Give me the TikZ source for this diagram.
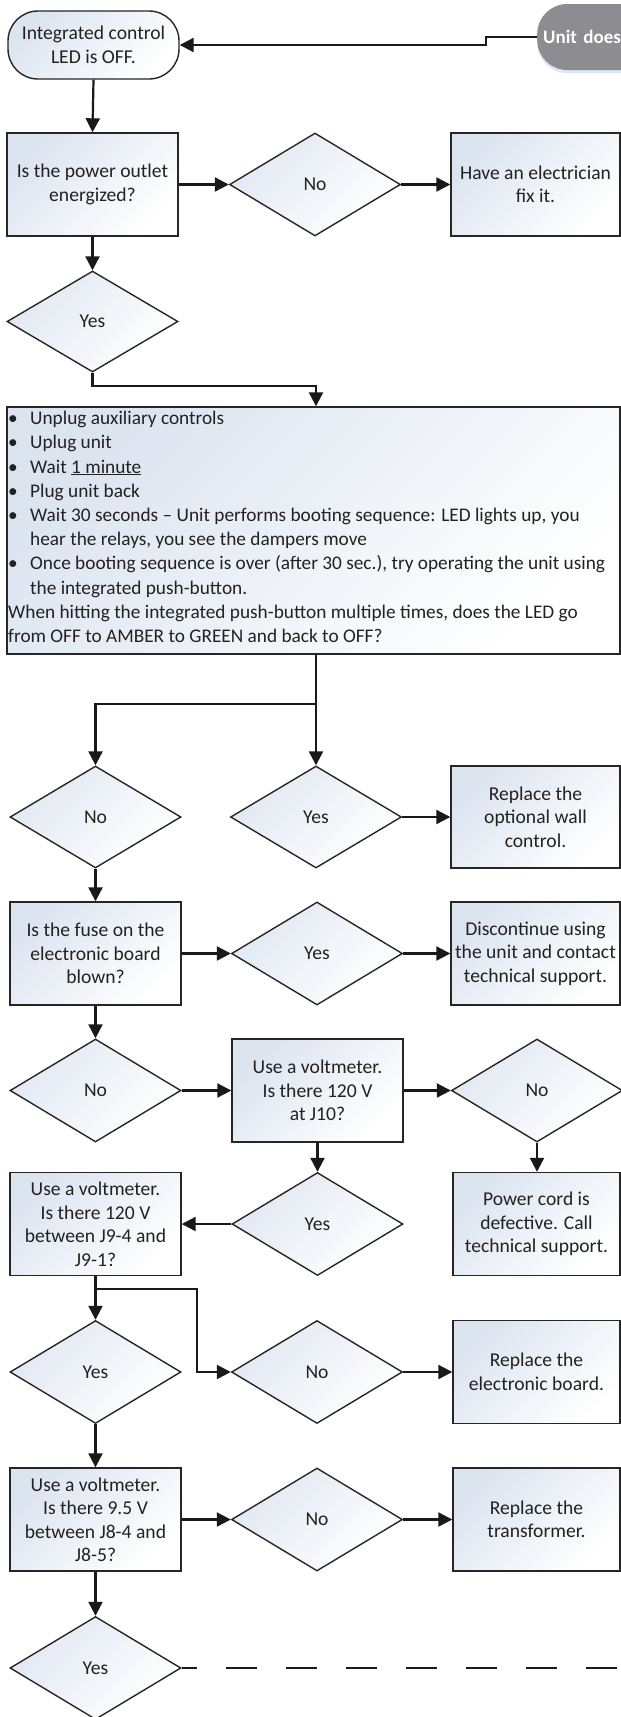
\documentclass[tikz,border=0pt]{standalone}
\usepackage{fontspec}
\setmainfont{Carlito}
\usetikzlibrary{arrows.meta,shapes.geometric,shadows,calc}
\definecolor{shadeblue}{HTML}{DCE4F0}
\definecolor{linegray}{HTML}{262626}
\definecolor{termgray}{HTML}{8C8C91}
\definecolor{glowblue}{HTML}{DCE6F4}
\definecolor{txtgray}{HTML}{222222}
\begin{document}
\begin{tikzpicture}[x=1pt,y=-1pt,
  every node/.style={font=\fontsize{19.6}{23.5}\selectfont, text=txtgray},
  boxnode/.style={draw=linegray, line width=1.4pt, rectangle, minimum width=171pt, minimum height=103pt, inner sep=0pt, align=center, top color=shadeblue, bottom color=white, shading angle=45},
  rbox/.style={boxnode, minimum width=169pt},
  dia/.style={draw=linegray, line width=1.4pt, diamond, minimum width=171pt, minimum height=103pt, inner sep=0pt, top color=shadeblue!85, bottom color=white, shading angle=45},
  termnode/.style={draw=linegray, line width=1.4pt, rectangle, rounded corners=30pt, minimum width=171pt, minimum height=68pt, inner sep=0pt, align=center, top color=shadeblue, bottom color=white, shading angle=45},
  conn/.style={line width=2.2pt, draw=black!90, -{Triangle[length=14pt,width=14pt]}},
  plainline/.style={line width=2.2pt, draw=black!90},
  dashline/.style={line width=2pt, draw=black!90, dash pattern=on 31pt off 29pt, dash phase=16pt}
]
\useasboundingbox (0,0) rectangle (621,1717);
\clip (0,0) rectangle (621,1717);

% top row
\node[draw=none, fill=termgray, rounded corners=30pt, minimum width=200pt, minimum height=66pt, text width=188pt, inner xsep=6pt, align=left, anchor=west, text=white, font=\fontsize{19}{23.5}\selectfont\bfseries, drop shadow={shadow xshift=0pt, shadow yshift=-3pt, fill=glowblue, opacity=1}] (unit) at (537,37) {Unit does};
\node[termnode] (start) at (93.5,45) {Integrated control\\LED is OFF.};

\node[boxnode] (box1) at (92.5,184.5) {Is the power outlet\\energized?};
\node[dia] (d1) at (315,184.5) {No};
\node[rbox] (elec) at (535.5,184.5) {Have an electrician\\fix it.};
\node[dia, minimum height=101pt] (dy1) at (92.5,321.5) {Yes};

\node[draw=linegray, line width=1.4pt, rectangle, minimum width=613pt, minimum height=247pt, inner sep=0pt, top color=shadeblue, bottom color=white, shading angle=45] (big) at (313.5,530.5) {};
\node[anchor=north west, inner sep=0pt, align=left, font=\fontsize{19.3}{24.2}\selectfont] (bigtext) at (8,411) {%
\makebox[22pt][l]{\textbullet}Unplug auxiliary controls\\
\makebox[22pt][l]{\textbullet}Uplug unit\\
\makebox[22pt][l]{\textbullet}Wait \underline{1 minute}\\
\makebox[22pt][l]{\textbullet}Plug unit back\\
\makebox[22pt][l]{\textbullet}Wait 30 seconds -- Unit performs booting sequence: LED lights up, you\\
\hspace*{22pt}hear the relays, you see the dampers move\\
\makebox[22pt][l]{\textbullet}Once booting sequence is over (after 30 sec.), try operating the unit using\\
\hspace*{22pt}the integrated push-button.\\
When hitting the integrated push-button multiple times, does the LED go\\
from OFF to AMBER to GREEN and back to OFF?};

\node[dia, minimum height=102pt] (dn2) at (95.5,817) {No};
\node[dia, minimum height=102pt] (dy2) at (316,817) {Yes};
\node[rbox, minimum height=102pt] (wall) at (535.5,817) {Replace the\\optional wall\\control.};

\node[boxnode] (fuse) at (95.5,953.5) {Is the fuse on the\\electronic board\\blown?};
\node[dia] (dy3) at (317,953.5) {Yes};
\node[rbox] (disc) at (535.5,953.5) {Discontinue using\\the unit and contact\\technical support.};

\node[dia] (dn4) at (95.5,1090.5) {No};
\node[boxnode] (j10) at (317.5,1090.5) {Use a voltmeter.\\Is there 120 V\\at J10?};
\node[dia] (dn5) at (537,1090.5) {No};

\node[boxnode] (j9) at (95.5,1224) {Use a voltmeter.\\Is there 120 V\\between J9-4 and\\J9-1?};
\node[dia] (dy6) at (317.5,1224) {Yes};
\node[rbox, minimum width=167pt] (cord) at (536.5,1224) {Power cord is\\defective. Call\\technical support.};

\node[dia] (dy7) at (95.5,1372) {Yes};
\node[dia] (dn7) at (317,1372) {No};
\node[rbox, minimum width=167pt] (board) at (536.5,1372) {Replace the\\electronic board.};

\node[boxnode] (j8) at (95.5,1519.5) {Use a voltmeter.\\Is there 9.5 V\\between J8-4 and\\J8-5?};
\node[dia] (dn8) at (317,1519.5) {No};
\node[rbox, minimum width=167pt] (trans) at (536.5,1519.5) {Replace the\\transformer.};

\node[dia] (dy9) at (95.5,1668) {Yes};

% connectors
\coordinate (k1) at (486,37);
\draw[conn] (unit.west) -- (k1) -- (k1 |- start.east) -- (start.east);
\draw[conn] (start.south) -- (box1.north);
\draw[conn] (box1.east) -- (d1.west);
\draw[conn] (d1.east) -- (elec.west);
\draw[conn] (box1.south) -- (dy1.north);
\coordinate (j1) at (316,386);
\draw[conn] (dy1.south) |- (j1) -- (j1 |- big.north);
\coordinate (j2) at (316,704);
\draw[plainline] (j1 |- big.south) -- (j2);
\draw[conn] (j2) -| (dn2.north);
\draw[conn] (j2) -- (dy2.north);
\draw[conn] (dy2.east) -- (wall.west);
\draw[conn] (dn2.south) -- (fuse.north);
\draw[conn] (fuse.east) -- (dy3.west);
\draw[conn] (dy3.east) -- (disc.west);
\draw[conn] (fuse.south) -- (dn4.north);
\draw[conn] (dn4.east) -- (j10.west);
\draw[conn] (j10.east) -- (dn5.west);
\draw[conn] (dn5.south) -- (dn5.south |- cord.north);
\draw[conn] (j10.south) -- (dy6.north);
\draw[conn] (dy6.west) -- (j9.east);
\draw[conn] (j9.south) -- (dy7.north);
\coordinate (j3) at (197,1289);
\draw[conn] (j9.south |- j3) -- (j3) |- (dn7.west);
\draw[conn] (dn7.east) -- (board.west);
\draw[conn] (dy7.south) -- (j8.north);
\draw[conn] (j8.east) -- (dn8.west);
\draw[conn] (dn8.east) -- (trans.west);
\draw[conn] (j8.south) -- (dy9.north);
\coordinate (dend) at (621,1668);
\draw[dashline] (dy9.east) -- (dend);
\end{tikzpicture}
\end{document}
